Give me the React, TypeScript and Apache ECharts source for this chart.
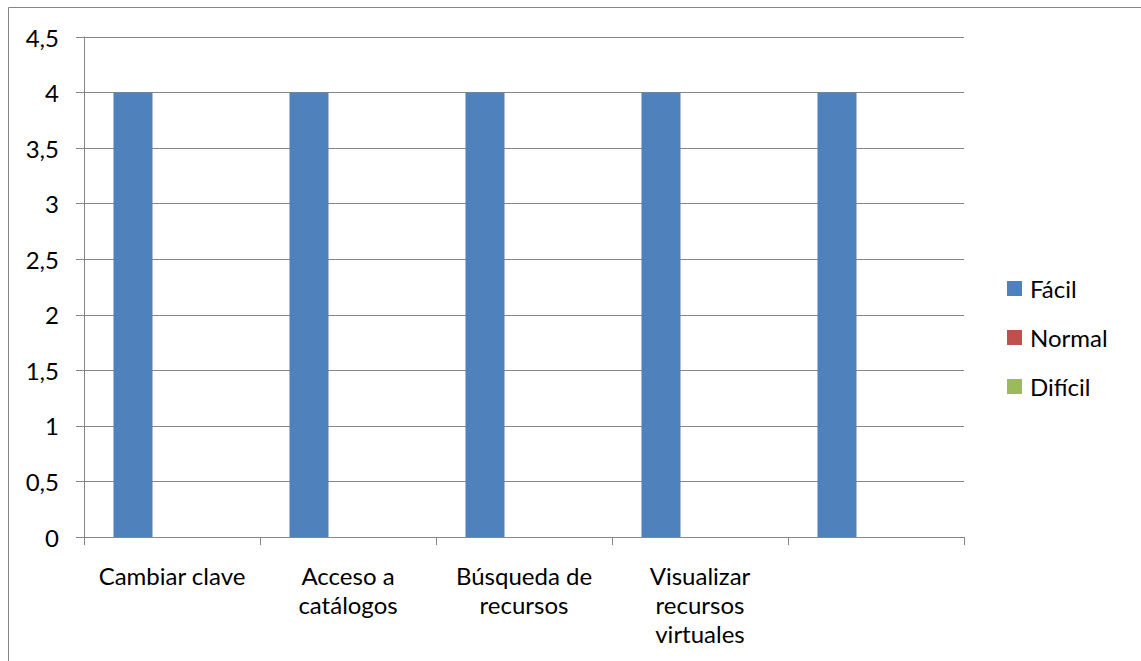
import React, { useEffect, useRef } from "react";
import * as echarts from "echarts";

const categories = ["Cambiar clave", "Acceso a\ncatálogos", "Búsqueda de\nrecursos", "Visualizar\nrecursos\nvirtuales", ""];
const facil = [4, 4, 4, 4, 4];
const normal = [0, 0, 0, 0, 0];
const dificil = [0, 0, 0, 0, 0];
const seriesNames = ["Fácil", "Normal", "Difícil"];
const colors = ["#4F81BD", "#C0504D", "#9BBB59"];

const FONT = "Lato";
const AXIS = "#868686";

export default function App() {
  const ref = useRef<HTMLDivElement>(null);
  useEffect(() => {
    if (!ref.current) return;
    const chart = echarts.init(ref.current, null, { renderer: "svg" });
    const values = [facil, normal, dificil];
    chart.setOption({
      animation: false,
      backgroundColor: "#ffffff",
      textStyle: { fontFamily: FONT },
      graphic: [
        {
          type: "line",
          shape: { x1: 8.5, y1: 7.5, x2: 1141, y2: 7.5 },
          style: { stroke: AXIS, lineWidth: 1 },
          silent: true,
        },
        {
          type: "line",
          shape: { x1: 8.5, y1: 7.5, x2: 8.5, y2: 661 },
          style: { stroke: AXIS, lineWidth: 1 },
          silent: true,
        },
      ],
      grid: { left: 84, right: 177, top: 37, height: 500 },
      legend: {
        orient: "vertical",
        left: 1007,
        top: 274,
        padding: 0,
        itemWidth: 15,
        itemHeight: 15,
        itemGap: 20,
        icon: "rect",
        textStyle: { fontFamily: FONT, fontSize: 24, color: "#000", lineHeight: 29, padding: [0, 0, 0, 3] },
        data: seriesNames,
      },
      xAxis: {
        type: "category",
        data: categories,
        axisLine: { lineStyle: { color: AXIS, width: 1 } },
        axisTick: { show: true, length: 8, lineStyle: { color: AXIS } },
        axisLabel: {
          interval: 0,
          fontFamily: FONT,
          fontSize: 24,
          color: "#000",
          lineHeight: 29,
          margin: 24,
        },
      },
      yAxis: {
        type: "value",
        min: 0,
        max: 4.5,
        interval: 0.5,
        axisLine: { show: true, lineStyle: { color: AXIS, width: 1 } },
        axisTick: { show: true, length: 8, lineStyle: { color: AXIS } },
        splitLine: { show: true, lineStyle: { color: AXIS, width: 1 } },
        axisLabel: {
          fontFamily: FONT,
          fontSize: 24,
          color: "#000",
          margin: 25,
          formatter: (v: number) => String(v).replace(".", ","),
        },
      },
      series: seriesNames.map((name, i) => ({
        name,
        type: "bar",
        data: values[i],
        barGap: "0%",
        barCategoryGap: "33.5%",
        itemStyle: { color: colors[i] },
      })),
    });
    return () => chart.dispose();
  }, []);
  return (
    <div
      ref={ref}
      style={{ position: "fixed", left: 0, top: 0, width: 1141, height: 661 }}
    />
  );
}
